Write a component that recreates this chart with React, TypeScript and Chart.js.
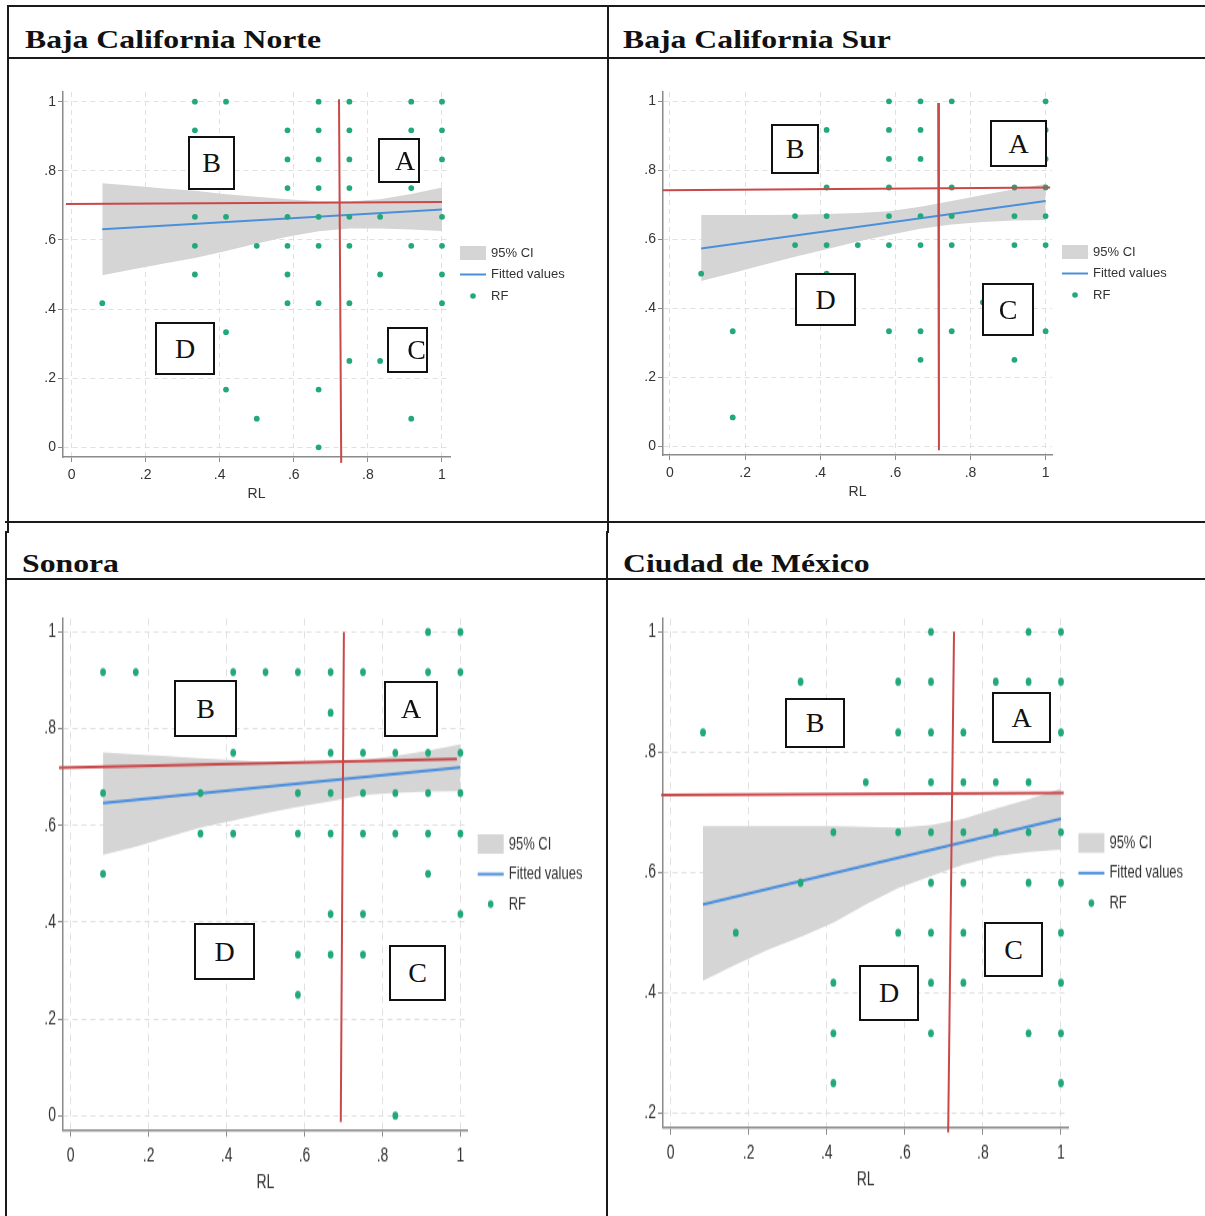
import React, { useEffect, useRef } from "react";
import { Chart, registerables } from "chart.js";

Chart.register(...registerables);

// ---------- shared labels / ticks ----------
const LEGEND_LABELS = ["95% CI", "Fitted values", "RF"];
const X_TITLE = "RL";
const X_TICKS = [0, 0.2, 0.4, 0.6, 0.8, 1];
const X_TICK_LABELS = ["0", ".2", ".4", ".6", ".8", "1"];
const Y_TICKS_FULL = [0, 0.2, 0.4, 0.6, 0.8, 1];
const Y_TICK_LABELS_FULL = ["0", ".2", ".4", ".6", ".8", "1"];
const Y_TICKS_CDMX = [0.2, 0.4, 0.6, 0.8, 1];
const Y_TICK_LABELS_CDMX = [".2", ".4", ".6", ".8", "1"];
const CI_X = [0.083, 0.167, 0.25, 0.333, 0.417, 0.5, 0.583, 0.667, 0.75, 0.833, 0.917, 1];
const FIT_X = [0.083, 1];

// ---------- Baja California Norte ----------
const bcnRL = [
  0.083,
  0.333, 0.333, 0.333, 0.333, 0.333,
  0.417, 0.417, 0.417, 0.417,
  0.5, 0.5,
  0.583, 0.583, 0.583, 0.583, 0.583, 0.583, 0.583,
  0.667, 0.667, 0.667, 0.667, 0.667, 0.667, 0.667, 0.667, 0.667,
  0.75, 0.75, 0.75, 0.75, 0.75, 0.75, 0.75, 0.75,
  0.833, 0.833, 0.833,
  0.917, 0.917, 0.917, 0.917, 0.917,
  1, 1, 1, 1, 1, 1, 1,
];
const bcnRF = [
  0.417,
  1, 0.917, 0.667, 0.583, 0.5,
  1, 0.667, 0.333, 0.167,
  0.583, 0.083,
  0.917, 0.833, 0.75, 0.667, 0.583, 0.5, 0.417,
  1, 0.917, 0.833, 0.75, 0.667, 0.583, 0.417, 0.167, 0,
  1, 0.917, 0.833, 0.75, 0.667, 0.583, 0.417, 0.25,
  0.667, 0.5, 0.25,
  1, 0.917, 0.75, 0.583, 0.083,
  1, 0.917, 0.833, 0.667, 0.583, 0.5, 0.417,
];
const bcnFit = [0.631, 0.688];
const bcnCiUpper = [0.764, 0.757, 0.749, 0.742, 0.732, 0.725, 0.718, 0.712, 0.711, 0.718, 0.733, 0.752];
const bcnCiLower = [0.498, 0.515, 0.532, 0.548, 0.568, 0.590, 0.609, 0.625, 0.633, 0.633, 0.630, 0.626];
const bcnRefHx = [-0.015, 1.0];
const bcnRefHy = [0.704, 0.71];
const bcnRefVx = [0.722, 0.728];
const bcnRefVy = [1.007, -0.045];

// ---------- Baja California Sur ----------
const bcsRL = [
  0.083,
  0.167, 0.167,
  0.333, 0.333,
  0.417, 0.417, 0.417, 0.417, 0.417,
  0.5,
  0.583, 0.583, 0.583, 0.583, 0.583, 0.583, 0.583,
  0.667, 0.667, 0.667, 0.667, 0.667, 0.667, 0.667,
  0.75, 0.75, 0.75, 0.75, 0.75,
  0.833,
  0.917, 0.917, 0.917, 0.917,
  1, 1, 1, 1, 1, 1, 1,
];
const bcsRF = [
  0.5,
  0.333, 0.083,
  0.667, 0.583,
  0.917, 0.75, 0.667, 0.583, 0.5,
  0.583,
  1, 0.917, 0.833, 0.75, 0.667, 0.583, 0.333,
  1, 0.917, 0.833, 0.667, 0.583, 0.333, 0.25,
  1, 0.75, 0.667, 0.583, 0.333,
  0.417,
  0.75, 0.667, 0.583, 0.25,
  1, 0.917, 0.833, 0.75, 0.667, 0.583, 0.333,
];
const bcsFit = [0.573, 0.711];
const bcsCiUpper = [0.670, 0.670, 0.670, 0.671, 0.673, 0.676, 0.681, 0.694, 0.711, 0.728, 0.745, 0.760];
const bcsCiLower = [0.479, 0.502, 0.526, 0.549, 0.571, 0.593, 0.612, 0.630, 0.643, 0.650, 0.654, 0.656];
const bcsRefHx = [-0.019, 1.012];
const bcsRefHy = [0.742, 0.75];
const bcsRefVx = [0.714, 0.716];
const bcsRefVy = [0.995, -0.012];

// ---------- Sonora ----------
const sonRL = [
  0.083, 0.083, 0.083,
  0.167,
  0.333, 0.333,
  0.417, 0.417, 0.417,
  0.5,
  0.583, 0.583, 0.583, 0.583, 0.583,
  0.667, 0.667, 0.667, 0.667, 0.667, 0.667, 0.667,
  0.75, 0.75, 0.75, 0.75, 0.75, 0.75,
  0.833, 0.833, 0.833, 0.833,
  0.917, 0.917, 0.917, 0.917, 0.917, 0.917,
  1, 1, 1, 1, 1, 1,
];
const sonRF = [
  0.917, 0.667, 0.5,
  0.917,
  0.667, 0.583,
  0.917, 0.75, 0.583,
  0.917,
  0.917, 0.667, 0.583, 0.333, 0.25,
  0.917, 0.833, 0.75, 0.667, 0.583, 0.417, 0.333,
  0.917, 0.75, 0.667, 0.583, 0.417, 0.333,
  0.75, 0.667, 0.583, 0,
  1, 0.917, 0.75, 0.667, 0.583, 0.5,
  1, 0.917, 0.75, 0.667, 0.583, 0.417,
];
const sonFit = [0.646, 0.72];
const sonCiUpper = [0.751, 0.747, 0.743, 0.739, 0.735, 0.731, 0.729, 0.730, 0.735, 0.744, 0.755, 0.768];
const sonCiLower = [0.539, 0.556, 0.576, 0.596, 0.610, 0.625, 0.638, 0.650, 0.663, 0.667, 0.670, 0.671];
const sonRefHx = [-0.03, 0.991];
const sonRefHy = [0.719, 0.737];
const sonRefVx = [0.701, 0.693];
const sonRefVy = [1.0, -0.013];

// ---------- Ciudad de México ----------
const cdmxRL = [
  0.083,
  0.167,
  0.333, 0.333,
  0.417, 0.417, 0.417, 0.417,
  0.5,
  0.583, 0.583, 0.583, 0.583,
  0.667, 0.667, 0.667, 0.667, 0.667, 0.667, 0.667, 0.667, 0.667,
  0.75, 0.75, 0.75, 0.75, 0.75, 0.75,
  0.833, 0.833, 0.833,
  0.917, 0.917, 0.917, 0.917, 0.917, 0.917,
  1, 1, 1, 1, 1, 1, 1, 1, 1,
];
const cdmxRF = [
  0.833,
  0.5,
  0.917, 0.583,
  0.667, 0.417, 0.333, 0.25,
  0.75,
  0.917, 0.833, 0.667, 0.5,
  1, 0.917, 0.833, 0.75, 0.667, 0.583, 0.5, 0.417, 0.333,
  0.833, 0.75, 0.667, 0.583, 0.5, 0.417,
  0.917, 0.75, 0.667,
  1, 0.917, 0.75, 0.667, 0.583, 0.333,
  1, 0.917, 0.833, 0.667, 0.583, 0.5, 0.417, 0.333, 0.25,
];
const cdmxFit = [0.547, 0.689];
const cdmxCiUpper = [0.677, 0.677, 0.677, 0.677, 0.677, 0.676, 0.675, 0.679, 0.689, 0.706, 0.722, 0.739];
const cdmxCiLower = [0.420, 0.447, 0.472, 0.493, 0.517, 0.547, 0.574, 0.594, 0.613, 0.627, 0.634, 0.638];
const cdmxRefHx = [-0.024, 1.007];
const cdmxRefHy = [0.729, 0.732];
const cdmxRefVx = [0.726, 0.711];
const cdmxRefVy = [1.0, 0.168];

// ---------- styles ----------
const GREEN = "#22a97a";
const BLUE = "#4b8fdc";
const BAND = "#d5d5d5";
const RED = "#c9484a";
const AXIS = "#8a8a8a";
const GRID = "#e0e0e0";
const TEXT = "#333333";
const SANS = "'Liberation Sans', Arial, sans-serif";
const SERIF = "'Liberation Serif', 'Times New Roman', serif";

const W_Y = 30;
const H_X = 48;

type Box = { l: string; x: number; y: number; w: number; h: number; dx?: number };

type PanelCfg = {
  title: string;
  titleX: number;
  titleY: number;
  box: { x: number; y: number; w: number; h: number };
  area: { l: number; r: number; t: number; b: number };
  xr: [number, number];
  yr: [number, number];
  yTicks: number[];
  yLabels: string[];
  rl: number[];
  rf: number[];
  fit: number[];
  ciU: number[];
  ciL: number[];
  hX: number[];
  hY: number[];
  vX: number[];
  vY: number[];
  legendGap: number;
  boxes: Box[];
  sy: number;
};

const PANELS: PanelCfg[] = [
  {
    title: "Baja California Norte", titleX: 25, titleY: 27,
    box: { x: 10, y: 60, w: 596, h: 460 },
    area: { l: 63, r: 450, t: 92, b: 457 },
    xr: [-0.023, 1.0216], yr: [-0.028, 1.028],
    yTicks: Y_TICKS_FULL, yLabels: Y_TICK_LABELS_FULL,
    rl: bcnRL, rf: bcnRF, fit: bcnFit, ciU: bcnCiUpper, ciL: bcnCiLower,
    hX: bcnRefHx, hY: bcnRefHy, vX: bcnRefVx, vY: bcnRefVy,
    legendGap: 21.5, sy: 1,
    boxes: [
      { l: "B", x: 188, y: 136, w: 47, h: 54 },
      { l: "A", x: 378, y: 138, w: 42, h: 45, dx: 6 },
      { l: "D", x: 155, y: 322, w: 60, h: 53 },
      { l: "C", x: 387, y: 327, w: 41, h: 46, dx: 9 },
    ],
  },
  {
    title: "Baja California Sur", titleX: 623, titleY: 27,
    box: { x: 611, y: 60, w: 594, h: 460 },
    area: { l: 663, r: 1052, t: 92, b: 455 },
    xr: [-0.0186, 1.017], yr: [-0.026, 1.027],
    yTicks: Y_TICKS_FULL, yLabels: Y_TICK_LABELS_FULL,
    rl: bcsRL, rf: bcsRF, fit: bcsFit, ciU: bcsCiUpper, ciL: bcsCiLower,
    hX: bcsRefHx, hY: bcsRefHy, vX: bcsRefVx, vY: bcsRefVy,
    legendGap: 21.5, sy: 1,
    boxes: [
      { l: "B", x: 771, y: 124, w: 48, h: 50 },
      { l: "A", x: 990, y: 120, w: 57, h: 47 },
      { l: "D", x: 795, y: 273, w: 61, h: 53 },
      { l: "C", x: 982, y: 283, w: 52, h: 53 },
    ],
  },
  {
    title: "Sonora", titleX: 22, titleY: 551,
    box: { x: 10, y: 581, w: 596, h: 635 },
    area: { l: 63, r: 467.7, t: 618.5, b: 1129.7 },
    xr: [-0.0198, 1.0187], yr: [-0.029, 1.0277],
    yTicks: Y_TICKS_FULL, yLabels: Y_TICK_LABELS_FULL,
    rl: sonRL, rf: sonRF, fit: sonFit, ciU: sonCiUpper, ciL: sonCiLower,
    hX: sonRefHx, hY: sonRefHy, vX: sonRefVx, vY: sonRefVy,
    legendGap: 21.5, sy: 1.4,
    boxes: [
      { l: "B", x: 174, y: 680, w: 63, h: 57 },
      { l: "A", x: 384, y: 681, w: 54, h: 56 },
      { l: "D", x: 194, y: 923, w: 61, h: 57 },
      { l: "C", x: 389, y: 945, w: 57, h: 56 },
    ],
  },
  {
    title: "Ciudad de México", titleX: 623, titleY: 551,
    box: { x: 611, y: 581, w: 594, h: 635 },
    area: { l: 663, r: 1068.4, t: 618.5, b: 1127.7 },
    xr: [-0.0195, 1.019], yr: [0.176, 1.022],
    yTicks: Y_TICKS_CDMX, yLabels: Y_TICK_LABELS_CDMX,
    rl: cdmxRL, rf: cdmxRF, fit: cdmxFit, ciU: cdmxCiUpper, ciL: cdmxCiLower,
    hX: cdmxRefHx, hY: cdmxRefHy, vX: cdmxRefVx, vY: cdmxRefVy,
    legendGap: 21.5, sy: 1.4,
    boxes: [
      { l: "B", x: 785, y: 698, w: 60, h: 50 },
      { l: "A", x: 992, y: 692, w: 59, h: 51 },
      { l: "D", x: 859, y: 965, w: 60, h: 56 },
      { l: "C", x: 984, y: 922, w: 59, h: 55 },
    ],
  },
];

const pts = (xs: number[], ys: number[]) => xs.map((x, i) => ({ x, y: ys[i] }));

const legendPlugin = (gap: number) => ({
  id: "stataLegend",
  afterDraw(chart: any) {
    const { ctx, chartArea } = chart;
    const cy = (chartArea.top + chartArea.bottom) / 2;
    const x0 = chartArea.right + 10;
    const x1 = chartArea.right + 36;
    const tx = chartArea.right + 41;
    const rows = [cy - gap, cy, cy + gap];
    ctx.save();
    ctx.fillStyle = BAND;
    ctx.fillRect(x0, rows[0] - 7, x1 - x0, 14);
    ctx.strokeStyle = BLUE;
    ctx.lineWidth = 2;
    ctx.beginPath();
    ctx.moveTo(x0, rows[1]);
    ctx.lineTo(x1, rows[1]);
    ctx.stroke();
    ctx.fillStyle = GREEN;
    ctx.beginPath();
    ctx.arc((x0 + x1) / 2, rows[2], 2.8, 0, Math.PI * 2);
    ctx.fill();
    ctx.fillStyle = TEXT;
    ctx.font = `13px ${SANS}`;
    ctx.textAlign = "left";
    ctx.textBaseline = "middle";
    LEGEND_LABELS.forEach((t, i) => ctx.fillText(t, tx, rows[i]));
    ctx.restore();
  },
});

function Panel({ cfg }: { cfg: PanelCfg }) {
  const ref = useRef<HTMLCanvasElement | null>(null);
  const ih = Math.round(cfg.box.h / cfg.sy);
  const sy = cfg.box.h / ih;
  useEffect(() => {
    if (!ref.current) return;
    const caL = cfg.area.l - cfg.box.x;
    const caR = cfg.area.r - cfg.box.x;
    const caT = (cfg.area.t - cfg.box.y) / sy;
    const caB = (cfg.area.b - cfg.box.y) / sy;
    const font = { family: SANS, size: 14 };
    const chart = new Chart(ref.current, {
      type: "scatter",
      data: {
        datasets: [
          {
            type: "line", data: pts(cfg.hX, cfg.hY), borderColor: RED, borderWidth: 2,
            pointRadius: 0, clip: false as any, fill: false,
          },
          {
            type: "line", data: pts(cfg.vX, cfg.vY), borderColor: RED, borderWidth: 2,
            pointRadius: 0, clip: false as any, fill: false,
          },
          {
            type: "scatter", data: pts(cfg.rl, cfg.rf), backgroundColor: GREEN,
            borderWidth: 0, pointRadius: 2.9,
          },
          {
            type: "line", data: pts(FIT_X, cfg.fit), borderColor: BLUE, borderWidth: 2,
            pointRadius: 0, fill: false,
          },
          {
            type: "line", data: pts(CI_X, cfg.ciU), borderColor: "rgba(0,0,0,0)", borderWidth: 0,
            pointRadius: 0, fill: "+1", backgroundColor: BAND,
          },
          {
            type: "line", data: pts(CI_X, cfg.ciL), borderColor: "rgba(0,0,0,0)", borderWidth: 0,
            pointRadius: 0, fill: false,
          },
        ] as any,
      },
      options: {
        responsive: false,
        animation: false,
        devicePixelRatio: 1,
        events: [],
        layout: {
          autoPadding: false,
          padding: {
            left: caL - W_Y,
            right: cfg.box.w - caR,
            top: caT,
            bottom: ih - caB - H_X,
          },
        } as any,
        plugins: {
          legend: { display: false },
          tooltip: { enabled: false },
        },
        scales: {
          x: {
            type: "linear",
            position: "bottom",
            min: cfg.xr[0],
            max: cfg.xr[1],
            afterBuildTicks: (s: any) => {
              s.ticks = X_TICKS.map((v) => ({ value: v }));
            },
            afterFit: (s: any) => {
              s.height = H_X;
            },
            ticks: {
              callback: (_v: any, i: number) => X_TICK_LABELS[i],
              font, color: TEXT, padding: 5, maxRotation: 0, autoSkip: false,
            },
            grid: {
              color: GRID, lineWidth: 1, tickLength: 5, tickColor: AXIS, tickWidth: 1,
              tickBorderDash: [],
            },
            border: { display: true, color: AXIS, width: 1.5, dash: [5, 4] },
            title: { display: true, text: X_TITLE, font, color: TEXT, padding: { top: 0, bottom: 2 } },
          },
          y: {
            type: "linear",
            position: "left",
            min: cfg.yr[0],
            max: cfg.yr[1],
            afterBuildTicks: (s: any) => {
              s.ticks = cfg.yTicks.map((v) => ({ value: v }));
            },
            afterFit: (s: any) => {
              s.width = W_Y;
            },
            ticks: {
              callback: (_v: any, i: number) => cfg.yLabels[i],
              font, color: TEXT, padding: 2, autoSkip: false,
            },
            grid: {
              color: GRID, lineWidth: 1, tickLength: 5, tickColor: AXIS, tickWidth: 1,
              tickBorderDash: [],
            },
            border: { display: true, color: AXIS, width: 1.5, dash: [5, 4] },
          },
        } as any,
      },
      plugins: [legendPlugin(cfg.legendGap)],
    });
    return () => chart.destroy();
  }, [cfg, ih, sy]);

  return (
    <div
      style={{
        position: "absolute",
        left: cfg.box.x,
        top: cfg.box.y,
        width: cfg.box.w,
        height: ih,
        transform: `scaleY(${sy})`,
        transformOrigin: "top left",
      }}
    >
      <canvas
        ref={ref}
        width={cfg.box.w}
        height={ih}
        style={{ display: "block", width: cfg.box.w, height: ih }}
      />
    </div>
  );
}

const line = (l: number, t: number, w: number, h: number, key: string) => (
  <div key={key} style={{ position: "absolute", left: l, top: t, width: w, height: h, background: "#1a1a1a" }} />
);

export default function App() {
  return (
    <div
      style={{
        position: "absolute",
        left: 0,
        top: 0,
        width: 1205,
        height: 1216,
        background: "#ffffff",
        overflow: "hidden",
      }}
    >
      {PANELS.map((p, i) => (
        <Panel key={"p" + i} cfg={p} />
      ))}
      {PANELS.map((p, i) => (
        <div
          key={"t" + i}
          style={{
            position: "absolute",
            left: p.titleX,
            top: p.titleY,
            fontFamily: SERIF,
            fontWeight: "bold",
            fontSize: 26,
            lineHeight: "26px",
            color: "#111",
            whiteSpace: "nowrap",
            transform: "scaleX(1.22)",
            transformOrigin: "left top",
          }}
        >
          {p.title}
        </div>
      ))}
      {PANELS.flatMap((p, i) =>
        p.boxes.map((b, j) => (
          <div
            key={`b${i}-${j}`}
            style={{
              position: "absolute",
              left: b.x,
              top: b.y,
              width: b.w,
              height: b.h,
              boxSizing: "border-box",
              border: "2px solid #111",
              background: "#ffffff",
              overflow: "hidden",
              display: "flex",
              alignItems: "center",
              justifyContent: "center",
              fontFamily: SERIF,
              fontSize: 28,
              color: "#111",
            }}
          >
            <span style={{ position: "relative", left: b.dx || 0 }}>{b.l}</span>
          </div>
        ))
      )}
      {line(7, 5, 1198, 2, "top")}
      {line(7, 57, 1198, 2, "h1")}
      {line(5, 521, 1200, 2, "sep")}
      {line(5, 578, 1200, 2, "h2")}
      {line(7, 5, 2, 528, "l1")}
      {line(5, 531, 2, 685, "l2")}
      {line(607, 5, 2, 528, "m1")}
      {line(606, 531, 2, 685, "m2")}
    </div>
  );
}
